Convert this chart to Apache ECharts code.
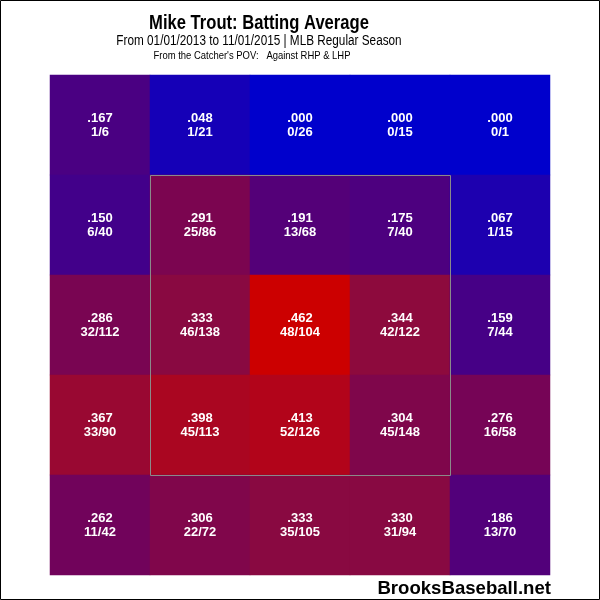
<!DOCTYPE html>
<html>
<head>
<meta charset="utf-8">
<script src="https://cdn.jsdelivr.net/npm/echarts@6/dist/echarts.min.js"></script>
<style>
  html, body { margin: 0; padding: 0; background: #fff; }
  #chart { width: 600px; height: 600px; }
</style>
</head>
<body>
<div id="chart"></div>
<script>
// zone columns (catcher's POV), left to right
const columns = ['0', '1', '2', '3', '4'];
// zone rows, top to bottom
const rows = ['0', '1', '2', '3', '4'];
// hits per zone, row by row (top row first)
const hits = [
    [1, 1, 0, 0, 0],
    [6, 25, 13, 7, 1],
    [32, 46, 48, 42, 7],
    [33, 45, 52, 45, 16],
    [11, 22, 35, 31, 13],
];
// at-bats per zone
const atBats = [
    [6, 21, 26, 15, 1],
    [40, 86, 68, 40, 15],
    [112, 138, 104, 122, 44],
    [90, 113, 126, 148, 58],
    [42, 72, 105, 94, 70],
];
// strike zone spans these cells
const zoneCols = [1, 3];
const zoneRows = [1, 3];

const fmtAvg = (v) => v.toFixed(3).replace(/^0/, '');

const data = [];
rows.forEach((r, ri) => {
    columns.forEach((c, ci) => {
        const h = hits[ri][ci];
        const ab = atBats[ri][ci];
        data.push({ value: [ci, ri, h / ab], h, ab });
    });
});

const chartDom = document.getElementById('chart');
const myChart = echarts.init(chartDom, null, { renderer: 'canvas' });

const option = {
    animation: false,
    backgroundColor: '#fff',
    grid: { left: 50, top: 75, width: 500, height: 500 },
    xAxis: {
        type: 'category',
        data: columns,
        show: false,
    },
    yAxis: {
        type: 'category',
        data: rows,
        inverse: true,
        show: false,
    },
    visualMap: {
        show: false,
        min: 0,
        max: 0.462,
        dimension: 2,
        inRange: { color: ['#0000cc', '#330099', '#660066', '#8e0a3c', '#cc0000'] },
    },
    series: [
        {
            type: 'heatmap',
            data: data,
            label: {
                show: true,
                color: '#fff',
                fontFamily: 'Liberation Sans, Arial',
                fontWeight: 'bold',
                fontSize: 13,
                lineHeight: 14,
                formatter: (p) => fmtAvg(p.value[2]) + '\n' + p.data.h + '/' + p.data.ab,
            },
            itemStyle: { borderWidth: 0 },
            emphasis: { disabled: true },
        },
    ],
};
myChart.setOption(option);

// strike zone outline + text, placed from the axes
const c0 = myChart.convertToPixel({ xAxisIndex: 0, yAxisIndex: 0 }, [0, 0]);
const c1 = myChart.convertToPixel({ xAxisIndex: 0, yAxisIndex: 0 }, [1, 1]);
const cw = c1[0] - c0[0];
const ch = c1[1] - c0[1];
const zTL = myChart.convertToPixel({ xAxisIndex: 0, yAxisIndex: 0 }, [zoneCols[0], zoneRows[0]]);
const zBR = myChart.convertToPixel({ xAxisIndex: 0, yAxisIndex: 0 }, [zoneCols[1], zoneRows[1]]);

myChart.setOption({
    graphic: [
        {
            type: 'rect',
            shape: {
                x: Math.round(zTL[0] - cw / 2) + 0.5,
                y: Math.round(zTL[1] - ch / 2) + 0.5,
                width: zBR[0] - zTL[0] + cw,
                height: zBR[1] - zTL[1] + ch,
            },
            style: { fill: 'none', stroke: '#8a8a8a', lineWidth: 1 },
            z: 100,
        },
        {
            type: 'rect',
            shape: { x: 0.5, y: 0.5, width: 599, height: 599 },
            style: { fill: 'none', stroke: '#000', lineWidth: 1 },
            z: 100,
        },
        {
            type: 'text',
            x: 259, y: 23,
            scaleX: 0.83,
            style: {
                text: 'Mike Trout: Batting Average',
                fill: '#000',
                font: 'bold 20px "Liberation Sans", Arial',
                textAlign: 'center',
                textVerticalAlign: 'middle',
            },
        },
        {
            type: 'text',
            x: 259, y: 41,
            scaleX: 0.84,
            style: {
                text: 'From 01/01/2013 to 11/01/2015 | MLB Regular Season',
                fill: '#000',
                font: '14px "Liberation Sans", Arial',
                textAlign: 'center',
                textVerticalAlign: 'middle',
            },
        },
        {
            type: 'text',
            x: 252, y: 56,
            scaleX: 0.86,
            style: {
                text: "From the Catcher's POV:   Against RHP & LHP",
                fill: '#000',
                font: '11px "Liberation Sans", Arial',
                textAlign: 'center',
                textVerticalAlign: 'middle',
            },
        },
        {
            type: 'text',
            x: 551, y: 589,
            style: {
                text: 'BrooksBaseball.net',
                fill: '#000',
                font: 'bold 18.6px "Liberation Sans", Arial',
                textAlign: 'right',
                textVerticalAlign: 'middle',
            },
        },
    ],
});
</script>
</body>
</html>
